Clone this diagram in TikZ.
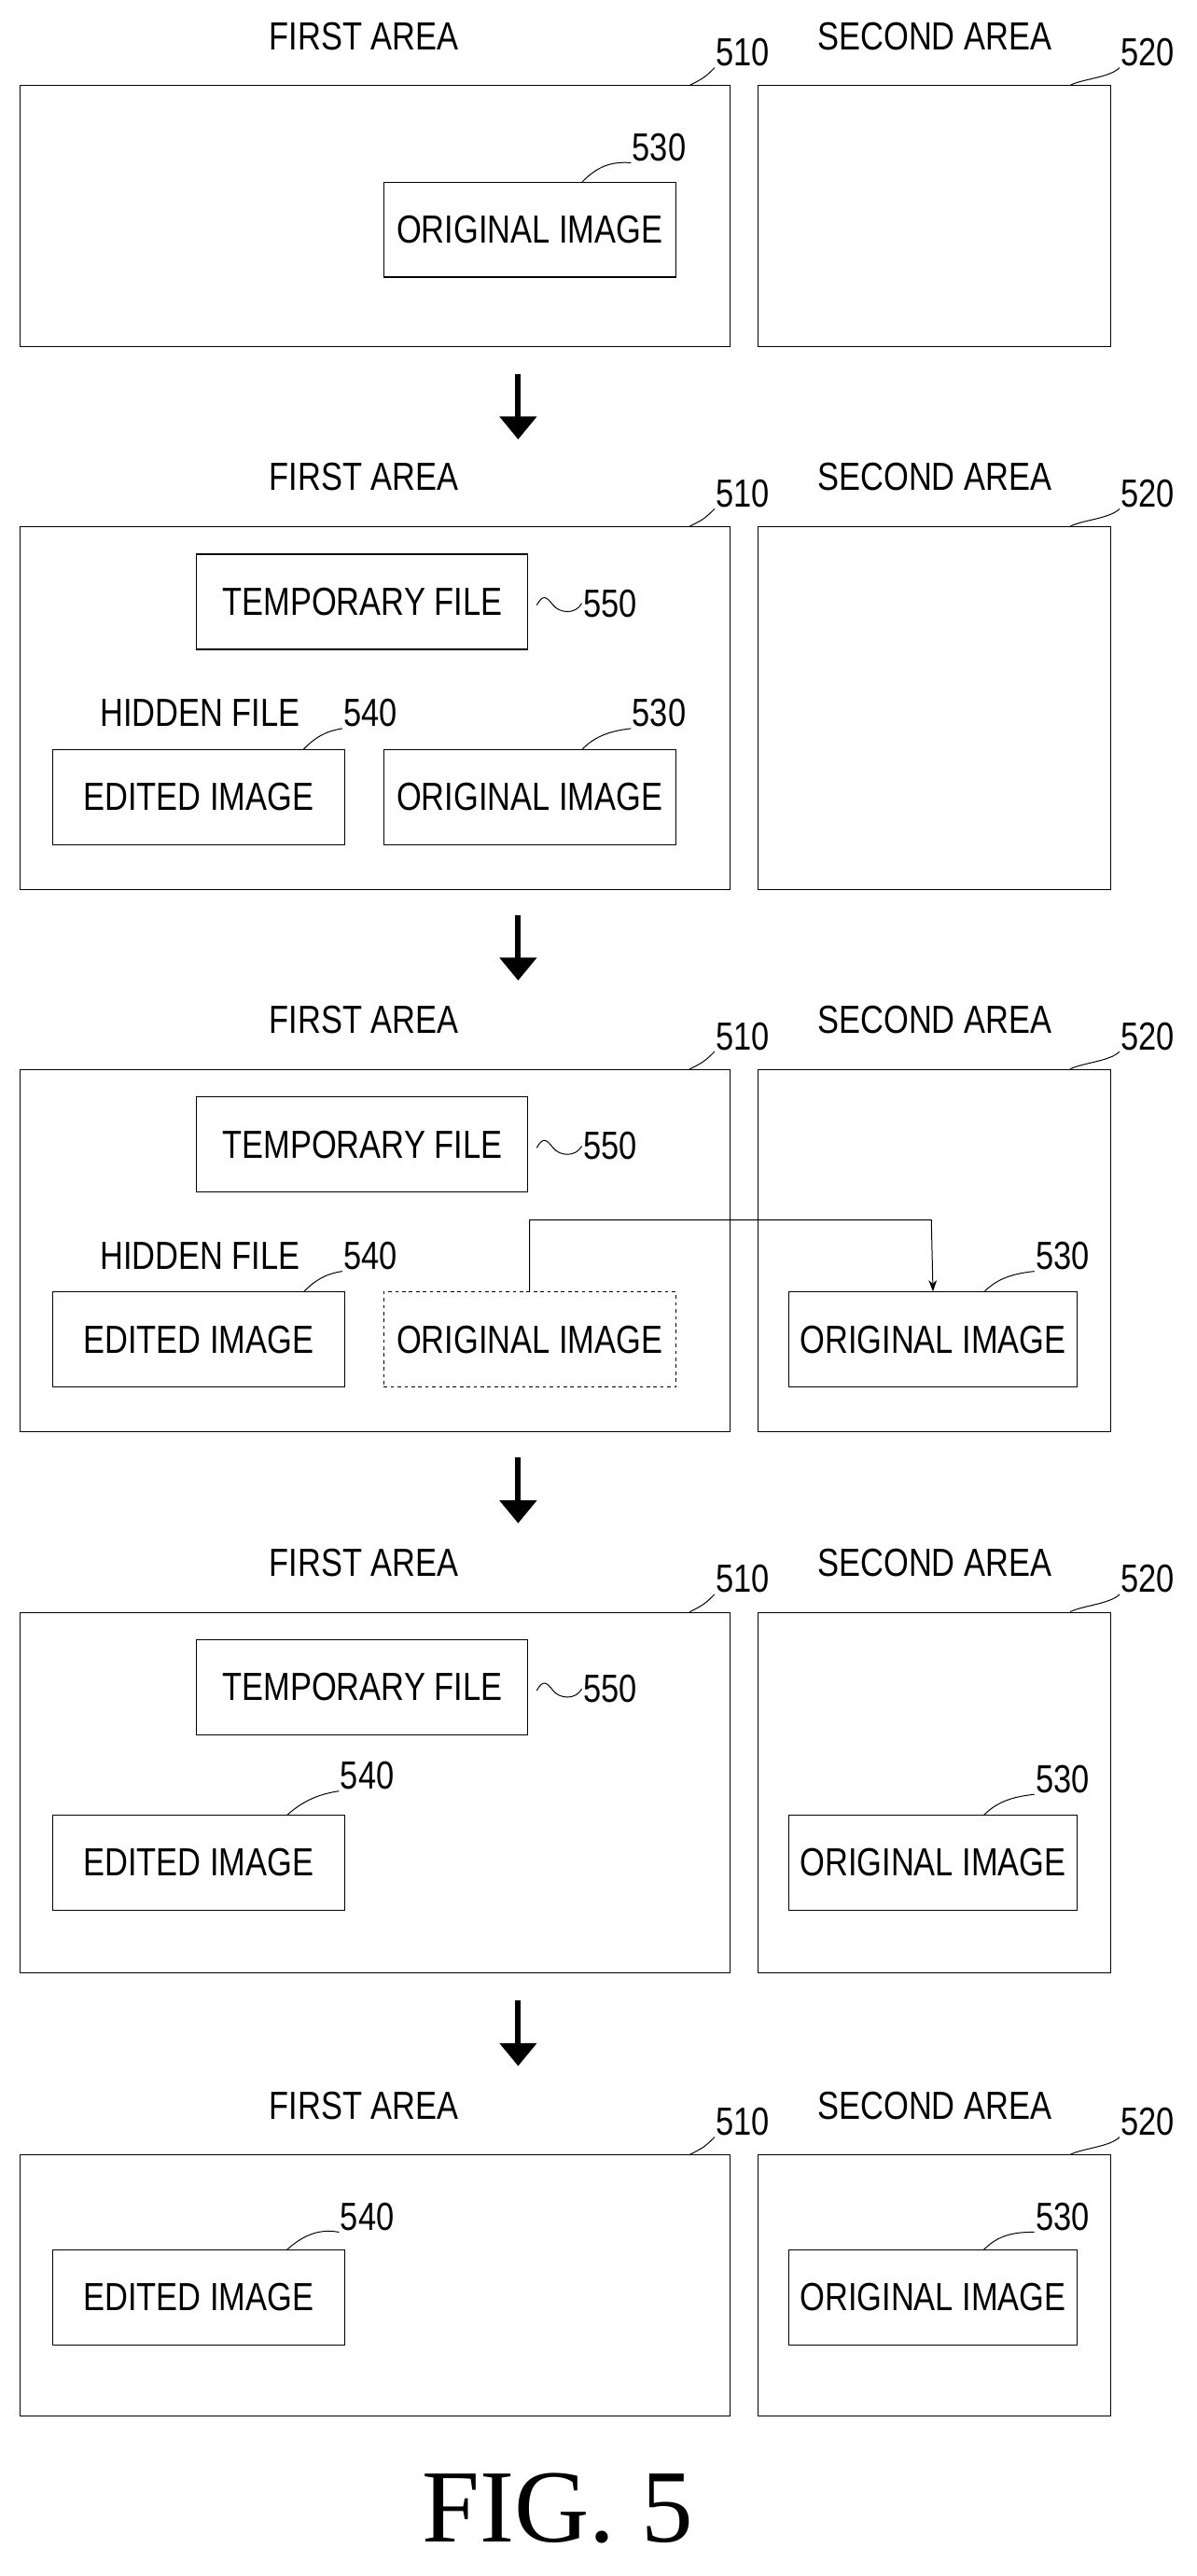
\documentclass[tikz,border=0pt]{standalone}
\usetikzlibrary{arrows.meta}
\usepackage{fontspec}
\setmainfont{Liberation Sans}[FakeStretch=0.82]
\newfontfamily\figfont{Liberation Serif}
\begin{document}
\begin{tikzpicture}[x=0.05cm,y=-0.05cm,
  frame/.style={draw,line width=0.9pt,inner sep=0},
  img/.style={draw,line width=0.9pt,minimum width=8.9cm,minimum height=2.9cm,inner sep=0,font=\fontsize{34}{34}\selectfont},
  tmp/.style={img,minimum width=10.1cm},
  lbl/.style={font=\fontsize{34}{34}\selectfont,inner sep=1pt},
  ld/.style={line width=0.8pt},
  big/.style={-{Triangle[length=0.7cm,width=1.1cm]},line width=5pt}]
\useasboundingbox (0,0) rectangle (730,1571);
% panel frames and titles
\foreach \y/\h/\n in {52/159/a,321/221/b,652/221/c,983/220/d,1314/159/e}{
  \node[frame,minimum width=21.65cm,minimum height=\h*0.05cm,anchor=north west] (f\n) at (12,\y) {};
  \node[frame,minimum width=10.75cm,minimum height=\h*0.05cm,anchor=north west] (s\n) at (462,\y) {};
  \node[lbl] (tf\n) at (222,\y-30) {FIRST AREA};
  \node[lbl] (ts\n) at (570,\y-30) {SECOND AREA};
  \node[lbl] (n510\n) at (453,\y-20) {510};
  \node[lbl] (n520\n) at (700,\y-20) {520};
  \draw[ld] (f\n.north east)++(-25,0) .. controls +(8,-4) and +(-6,6) .. (n510\n.south west);
  \draw[ld] (s\n.north east)++(-25,0) .. controls +(8,-4) and +(-6,6) .. (n520\n.south west);
}
% arrows
\foreach \y [count=\i] in {228,558,889,1220}{
  \coordinate (at\i) at (316,\y); \coordinate (ab\i) at (316,\y+40);
  \draw[big] (at\i) -- (ab\i);
}
% panel 1
\node[img] (o1) at (323,140) {ORIGINAL IMAGE};
\node[lbl] (l5301) at (402,90) {530};
\draw[ld] (355,111) .. controls (362,104) and (370,98) .. (l5301.south west);
% panels 2-4: temporary file
\foreach \y/\n in {321/b,652/c,983/d}{
  \node[tmp] (t\n) at (221,\y+46) {TEMPORARY FILE};
  \node[lbl] (l550\n) at (372,\y+47) {550};
  \draw[ld] (t\n.east)++(5,2) .. controls +(4,-7) and +(-4,-5) .. ++(10,0) .. controls +(4,5) and +(-4,7) .. (l550\n.west);
}
% panel 2
\node[img] (e2) at (121,486) {EDITED IMAGE};
\node[img] (o2) at (323,486) {ORIGINAL IMAGE};
\node[lbl] (h2) at (122,435) {HIDDEN FILE};
\node[lbl] (l5402) at (226,435) {540};
\node[lbl] (l5302) at (402,435) {530};
\draw[ld] (185,457) .. controls (192,450) and (198,446) .. (l5402.south west);
\draw[ld] (355,457) .. controls (362,450) and (370,446) .. (l5302.south west);
% panel 3
\node[img] (e3) at (121,817) {EDITED IMAGE};
\node[img,dashed] (o3) at (323,817) {ORIGINAL IMAGE};
\node[lbl] (h3) at (122,766) {HIDDEN FILE};
\node[lbl] (l5403) at (226,766) {540};
\draw[ld] (185,788) .. controls (192,781) and (198,777) .. (l5403.south west);
\node[img,minimum width=8.8cm] (q3) at (569,817) {ORIGINAL IMAGE};
\node[lbl] (l5303) at (648,766) {530};
\draw[ld] (600,788) .. controls (607,781) and (615,777) .. (l5303.south west);
\draw[line width=0.8pt,-{Stealth[length=0.35cm,width=0.25cm]}] (o3.north) |- (568,744) -- (q3.north);
% panel 4
\node[img] (e4) at (121,1136) {EDITED IMAGE};
\node[lbl] (l5404) at (224,1083) {540};
\draw[ld] (175,1107) .. controls (185,1098) and (195,1094) .. (l5404.south west);
\node[img,minimum width=8.8cm] (q4) at (569,1136) {ORIGINAL IMAGE};
\node[lbl] (l5304) at (648,1085) {530};
\draw[ld] (600,1107) .. controls (607,1100) and (615,1096) .. (l5304.south west);
% panel 5
\node[img] (e5) at (121,1401) {EDITED IMAGE};
\node[lbl] (l5405) at (224,1352) {540};
\draw[ld] (175,1372) .. controls (185,1363) and (195,1359) .. (l5405.south west);
\node[img,minimum width=8.8cm] (q5) at (569,1401) {ORIGINAL IMAGE};
\node[lbl] (l5305) at (648,1352) {530};
\draw[ld] (600,1372) .. controls (607,1365) and (615,1361) .. (l5305.south west);
% caption
\node[font=\figfont\fontsize{90}{90}\selectfont] (cap) at (340,1530) {FIG. 5};
\end{tikzpicture}
\end{document}
